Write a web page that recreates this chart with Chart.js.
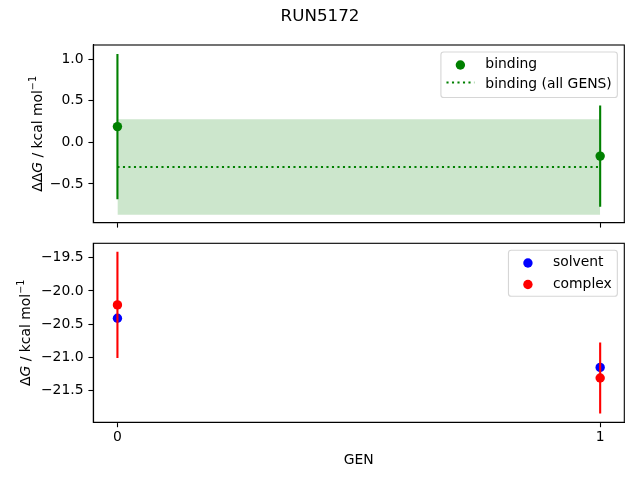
<!DOCTYPE html>
<html><head><meta charset="utf-8">
<script src="https://cdn.jsdelivr.net/npm/chart.js@4"></script>
<style>
html,body{margin:0;padding:0;background:#fff;}
.wrap{position:relative;width:640px;height:480px;}
canvas{position:absolute;left:0;top:0;}
</style>
</head><body>
<div class="wrap"><canvas id="c1" width="640" height="480"></canvas><canvas id="c2" width="640" height="480"></canvas></div>
<script>
// ---------------- data ----------------
const figureTitle = 'RUN5172';
const xAxisLabel = 'GEN';
const gens = [0, 1];
const xTicks = [0, 1];
const bindingLabel = 'binding';
const bindingAllLabel = 'binding (all GENS)';
const bindingValues = [0.19, -0.165];
const bindingErrors = [0.875, 0.61];
const bindingAllMean = -0.295;
const bindingAllError = 0.575;
const topYTicks = [-0.5, 0.0, 0.5, 1.0];
const solventLabel = 'solvent';
const complexLabel = 'complex';
const solventValues = [-20.41, -21.15];
const solventErrors = [0, 0];
const complexValues = [-20.21, -21.31];
const complexErrors = [0.80, 0.535];
const bottomYTicks = [-21.5, -21.0, -20.5, -20.0, -19.5];

// ---------------- style ----------------
const FONT = 'DejaVu Sans';
const FS = 13.9;
const PR = 4.7;
const GREEN = '#008000', BLUE = '#0000ff', RED = '#ff0000';
Chart.defaults.font.family = FONT;
Chart.defaults.font.size = FS;
Chart.defaults.color = '#000';

const fmt = v => (v < 0 ? '\u2212' : '') + Math.abs(v).toFixed(1);

function errorBarSets(values, errors, color, order) {
  return values.map((v, i) => ({
    type: 'line', showLine: true, order,
    data: [{x: gens[i], y: v - errors[i]}, {x: gens[i], y: v + errors[i]}],
    borderColor: color, borderWidth: 2.1, pointRadius: 0, fill: false,
    borderCapStyle: 'butt'
  }));
}
function pointSet(values, color, label, order) {
  return {type: 'scatter', label, order, data: values.map((v, i) => ({x: gens[i], y: v})),
    backgroundColor: color, borderWidth: 0, pointRadius: PR, pointHoverRadius: PR};
}

// frame plugin
const framePlugin = {
  id: 'frame',
  afterDatasetsDraw(chart) {
    const a = chart.chartArea, c = chart.ctx;
    c.save(); c.strokeStyle = '#000'; c.lineWidth = 1.1;
    c.strokeRect(a.left, a.top, a.right - a.left, a.bottom - a.top);
    c.restore();
  }
};

// custom legend (matplotlib-like)
const mplLegend = {
  id: 'mplLegend',
  afterDraw(chart, args, opts) {
    if (!opts.items) return;
    const c = chart.ctx, a = chart.chartArea;
    c.save();
    c.font = FS + 'px ' + FONT;
    const tw = Math.max(...opts.items.map(it => c.measureText(it.label).width));
    const w = 5.56 * 2 + 27.8 + 11.1 + tw;
    const h = opts.height;
    const x = a.right - 6.95 - w, y = a.top + 6.95;
    const r = 2.8;
    c.beginPath();
    c.moveTo(x + r, y); c.lineTo(x + w - r, y); c.arcTo(x + w, y, x + w, y + r, r);
    c.lineTo(x + w, y + h - r); c.arcTo(x + w, y + h, x + w - r, y + h, r);
    c.lineTo(x + r, y + h); c.arcTo(x, y + h, x, y + h - r, r);
    c.lineTo(x, y + r); c.arcTo(x, y, x + r, y, r); c.closePath();
    c.fillStyle = 'rgba(255,255,255,0.8)'; c.fill();
    c.strokeStyle = 'rgba(204,204,204,0.8)'; c.lineWidth = 1.1; c.stroke();
    opts.items.forEach(it => {
      const hx = x + 5.56, hy = y + it.dy;
      if (it.kind === 'dot') {
        c.beginPath(); c.arc(hx + 13.9, hy, PR, 0, Math.PI * 2);
        c.fillStyle = it.color; c.fill();
      } else {
        c.beginPath(); c.setLineDash([2.1, 3.4]); c.moveTo(hx, hy); c.lineTo(hx + 27.8, hy);
        c.strokeStyle = it.color; c.lineWidth = 2.1; c.stroke(); c.setLineDash([]);
      }
      c.fillStyle = '#000'; c.textBaseline = 'alphabetic'; c.textAlign = 'left';
      c.fillText(it.label, x + 5.56 + 27.8 + 11.1, y + it.ty);
    });
    c.restore();
  }
};

// axis labels / title plugin
const mplLabels = {
  id: 'mplLabels',
  afterDraw(chart, args, opts) {
    const c = chart.ctx, a = chart.chartArea;
    c.save(); c.fillStyle = '#000'; c.textBaseline = 'alphabetic';
    if (opts.title) {
      c.font = '16.7px ' + FONT; c.textAlign = 'center';
      c.fillText(opts.title, 320, 21);
    }
    if (opts.xlabel) {
      c.font = FS + 'px ' + FONT; c.textAlign = 'center';
      c.fillText(opts.xlabel, (a.left + a.right) / 2, opts.xlabelY);
    }
    if (opts.yparts) {
      const parts = opts.yparts.map(p => {
        c.font = (p.italic ? 'italic ' : '') + (p.size || FS) + 'px ' + FONT;
        return Object.assign({w: c.measureText(p.t).width}, p);
      });
      const total = parts.reduce((s, p) => s + p.w, 0);
      c.translate(opts.ylabelX, (a.top + a.bottom) / 2);
      c.rotate(-Math.PI / 2);
      let px = -total / 2;
      c.textAlign = 'left';
      parts.forEach(p => {
        c.font = (p.italic ? 'italic ' : '') + (p.size || FS) + 'px ' + FONT;
        c.fillText(p.t, px, -(p.raise || 0));
        px += p.w;
      });
    }
    c.restore();
  }
};

function xScale(height, showLabels) {
  return {
    type: 'linear', min: -0.05, max: 1.05,
    afterBuildTicks: s => { s.ticks = xTicks.map(v => ({value: v})); },
    afterFit: s => { s.height = height; },
    grid: {drawOnChartArea: false, drawTicks: true, tickLength: 4.9, tickWidth: 1.1, tickColor: '#000'},
    border: {display: true, color: '#000', width: 1.1},
    ticks: {color: '#000', padding: 1.5, maxRotation: 0, autoSkip: false,
      callback: v => showLabels ? String(v) : ''}
  };
}
function yScale(min, max, ticks) {
  return {
    type: 'linear', min, max,
    afterBuildTicks: s => { s.ticks = ticks.map(v => ({value: v})); },
    afterFit: s => { s.width = 93.3; },
    grid: {drawOnChartArea: false, drawTicks: true, tickLength: 4.9, tickWidth: 1.1, tickColor: '#000'},
    border: {display: true, color: '#000', width: 1.1},
    ticks: {color: '#000', padding: 4.9, autoSkip: false, callback: v => fmt(v)}
  };
}
const baseOpts = {responsive: false, animation: false, devicePixelRatio: 1,
  events: []};

// ---------------- top chart ----------------
const topDatasets = [
  pointSet(bindingValues, GREEN, bindingLabel, 0),
  ...errorBarSets(bindingValues, bindingErrors, GREEN, 1),
  {type: 'line', label: bindingAllLabel, order: 2,
    data: [{x: gens[0], y: bindingAllMean}, {x: gens[gens.length - 1], y: bindingAllMean}],
    borderColor: GREEN, borderWidth: 2.1, borderDash: [2.1, 3.4], pointRadius: 0, fill: false},
  {type: 'line', order: 3,
    data: [{x: gens[0], y: bindingAllMean + bindingAllError}, {x: gens[gens.length - 1], y: bindingAllMean + bindingAllError}],
    borderWidth: 0, borderColor: 'rgba(0,0,0,0)', pointRadius: 0, fill: false},
  {type: 'line', order: 3,
    data: [{x: gens[0], y: bindingAllMean - bindingAllError}, {x: gens[gens.length - 1], y: bindingAllMean - bindingAllError}],
    borderWidth: 0, borderColor: 'rgba(0,0,0,0)', pointRadius: 0, fill: '-1',
    backgroundColor: 'rgba(0,128,0,0.2)'}
];
new Chart(document.getElementById('c1'), {
  type: 'scatter',
  data: {datasets: topDatasets},
  options: Object.assign({}, baseOpts, {
    layout: {padding: {left: 0, right: 15.7, top: 45, bottom: 480 - 222.7 - 10}},
    scales: {x: xScale(10, false), y: yScale(-0.966, 1.172, topYTicks)},
    plugins: {
      legend: {display: false}, tooltip: {enabled: false},
      mplLegend: {height: 45.6, items: [
        {kind: 'dot', color: GREEN, label: bindingLabel, dy: 13, ty: 16.3},
        {kind: 'dotted', color: GREEN, label: bindingAllLabel, dy: 30.6, ty: 35.6}
      ]},
      mplLabels: {title: figureTitle, ylabelX: 42, yparts: [
        {t: '\u0394\u0394'}, {t: 'G', italic: true}, {t: ' / kcal mol'}, {t: '\u22121', size: 9.7, raise: 5.6}
      ]}
    }
  }),
  plugins: [framePlugin, mplLegend, mplLabels]
});

// ---------------- bottom chart ----------------
const bottomDatasets = [
  pointSet(complexValues, RED, complexLabel, 0),
  ...errorBarSets(complexValues, complexErrors, RED, 1),
  pointSet(solventValues, BLUE, solventLabel, 2),
  ...errorBarSets(solventValues, solventErrors, BLUE, 3)
];
new Chart(document.getElementById('c2'), {
  type: 'scatter',
  data: {datasets: bottomDatasets},
  options: Object.assign({}, baseOpts, {
    layout: {padding: {left: 0, right: 15.7, top: 243.3, bottom: 480 - 422.3 - 30}},
    scales: {x: xScale(30, true), y: yScale(-21.976, -19.283, bottomYTicks)},
    plugins: {
      legend: {display: false}, tooltip: {enabled: false},
      mplLegend: {height: 46, items: [
        {kind: 'dot', color: BLUE, label: solventLabel, dy: 12.7, ty: 16},
        {kind: 'dot', color: RED, label: complexLabel, dy: 34.3, ty: 37.7}
      ]},
      mplLabels: {xlabel: xAxisLabel, xlabelY: 464, ylabelX: 30, yparts: [
        {t: '\u0394'}, {t: 'G', italic: true}, {t: ' / kcal mol'}, {t: '\u22121', size: 9.7, raise: 5.6}
      ]}
    }
  }),
  plugins: [framePlugin, mplLegend, mplLabels]
});
</script>
</body></html>
